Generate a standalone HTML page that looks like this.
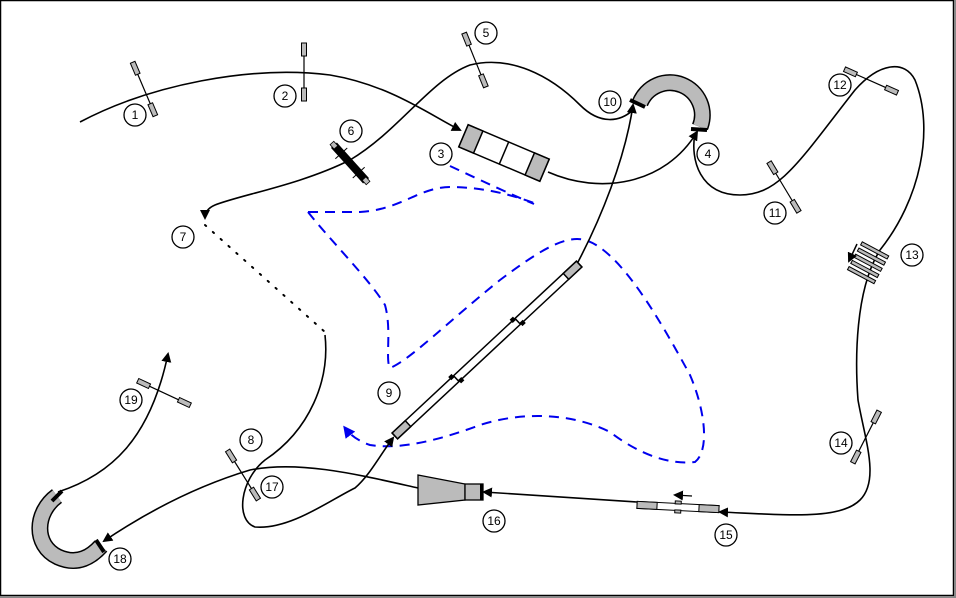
<!DOCTYPE html>
<html><head><meta charset="utf-8"><style>
html,body{margin:0;padding:0;background:#fff;}
svg{display:block;}
text{font-family:"Liberation Sans",sans-serif;font-size:12px;fill:#000;text-anchor:middle;dominant-baseline:central;}
</style></head><body>
<svg width="956" height="598" viewBox="0 0 956 598" xmlns="http://www.w3.org/2000/svg">
<defs>
<marker id="ar" markerWidth="10" markerHeight="10" refX="8" refY="5" orient="auto" markerUnits="userSpaceOnUse"><path d="M0,0 L10,5 L0,10 Z" fill="#000"/></marker>
<marker id="ab" markerWidth="12" markerHeight="12" refX="9" refY="6" orient="auto" markerUnits="userSpaceOnUse"><path d="M0,0 L12,6 L0,12 Z" fill="#0000ee"/></marker>
<g id="jmp"><line x1="0" y1="-28" x2="0" y2="28" stroke="#000" stroke-width="1.2"/><rect x="-2.5" y="-29" width="5" height="13" fill="#bbb" stroke="#000"/><rect x="-2.5" y="16" width="5" height="13" fill="#bbb" stroke="#000"/></g>
</defs>
<rect x="0.5" y="0.5" width="953" height="595" fill="#fff" stroke="#000" stroke-width="1.5"/>
<line x1="955" y1="0" x2="955" y2="598" stroke="#888" stroke-width="2"/>
<line x1="0" y1="597" x2="956" y2="597" stroke="#888" stroke-width="2"/>

<g fill="none" stroke="#0000ee" stroke-width="2" stroke-dasharray="10 7">
<path d="M450,166 C480,180 510,194 534,204"/>
<path d="M308,212 L360,212 C400,210 420,187 450,187 C485,187 515,196 534,203"/>
<path d="M308,212 C330,240 370,280 385,305 C392,330 385,360 390,368 C410,360 450,320 500,280 C540,250 565,235 585,240 C620,250 660,320 690,375 C705,410 710,450 695,462 C670,465 640,455 610,432 C570,412 520,412 480,425 C440,440 400,450 370,445 C355,440 348,432 345,428" marker-end="url(#ab)"/>
</g>

<g fill="none" stroke="#000" stroke-width="1.6">
<path d="M80,122 C150,85 250,65 330,75 C390,85 430,115 460,130" marker-end="url(#ar)"/>
<path d="M548,172 C600,195 665,185 697,132" marker-end="url(#ar)"/>
<path d="M695,133 C690,160 700,195 740,195 C780,195 800,160 855,90 C880,62 905,60 915,80 C935,130 920,200 880,250 C855,290 855,360 858,400 C865,440 880,480 860,500 C840,520 790,515 720,512" marker-end="url(#ar)"/>
<path d="M637,502 L484,492" marker-end="url(#ar)"/>
<path d="M418,488 C360,475 300,460 250,470 C200,485 150,510 104,541" marker-end="url(#ar)"/>
<path d="M58,492 C110,475 150,440 168,354" marker-end="url(#ar)"/>
<path d="M578,262 C600,220 625,160 633,105" marker-end="url(#ar)"/>
<path d="M633,110 C620,122 600,125 580,105 C550,75 510,55 470,65 C430,80 400,130 350,160 C300,185 240,195 215,205 C208,208 205,212 205,218" marker-end="url(#ar)"/>
<path d="M325,335 C330,380 310,430 265,460 C240,480 235,520 255,527 C290,530 330,500 355,488 C370,475 380,455 393,438" marker-end="url(#ar)"/>
</g>
<path d="M205,225 L325,332" stroke="#000" stroke-width="2" stroke-dasharray="1.5 9" fill="none" stroke-linecap="round"/>

<use href="#jmp" transform="translate(144,89) rotate(-23)"/>
<use href="#jmp" transform="translate(304,72)"/>
<use href="#jmp" transform="translate(475,60) rotate(-22)"/>
<use href="#jmp" transform="translate(784,187) rotate(-31)"/>
<use href="#jmp" transform="translate(871,81) rotate(-66)"/>
<use href="#jmp" transform="translate(866,437) rotate(27)"/>
<use href="#jmp" transform="translate(243,475) rotate(-32)"/>
<use href="#jmp" transform="translate(164,393) rotate(-65)"/>
<g transform="translate(350,163) rotate(-42)">
<line x1="0" y1="-26" x2="0" y2="26" stroke="#000" stroke-width="1.2"/>
<rect x="-4" y="-24" width="8" height="48" fill="#000"/>
<rect x="-2.5" y="-27" width="5" height="6" fill="#bbb" stroke="#000" stroke-width="0.8"/>
<rect x="-2.5" y="21" width="5" height="6" fill="#bbb" stroke="#000" stroke-width="0.8"/>
<line x1="-8" y1="-13" x2="8" y2="-13" stroke="#000"/><line x1="-8" y1="13" x2="8" y2="13" stroke="#000"/>
</g>

<g transform="translate(504,153) rotate(23)" stroke="#000" stroke-width="1.5">
<rect x="-44" y="-12" width="88" height="24" fill="#fff"/>
<rect x="-44" y="-12" width="16" height="24" fill="#bbb"/>
<rect x="28" y="-12" width="16" height="24" fill="#bbb"/>
<line x1="0" y1="-12" x2="0" y2="12"/>
</g>

<path d="M640,103 A32,32 0 1 1 700,127" fill="none" stroke="#000" stroke-width="17"/>
<path d="M640,103 A32,32 0 1 1 700,127" fill="none" stroke="#bbb" stroke-width="14"/>
<line x1="630" y1="100" x2="645" y2="107" stroke="#000" stroke-width="4"/>
<line x1="691" y1="129" x2="707" y2="130" stroke="#000" stroke-width="4"/>

<path d="M57,496 C35,512 33,545 58,557 C78,566 92,556 101,546" fill="none" stroke="#000" stroke-width="17"/>
<path d="M57,496 C35,512 33,545 58,557 C78,566 92,556 101,546" fill="none" stroke="#bbb" stroke-width="14"/>
<line x1="52" y1="501" x2="62" y2="491" stroke="#000" stroke-width="4"/>
<line x1="96" y1="540" x2="104" y2="552" stroke="#000" stroke-width="4"/>

<g transform="translate(487,350) rotate(-43)" stroke="#000" stroke-width="1.5">
<rect x="-126" y="-4" width="252" height="8" fill="#fff"/>
<rect x="-126" y="-4" width="18" height="8" fill="#bbb"/>
<rect x="108" y="-4" width="18" height="8" fill="#bbb"/>
<line x1="-42" y1="-4" x2="-42" y2="4"/><line x1="42" y1="-4" x2="42" y2="4"/>
<rect x="-46" y="-6" width="3" height="3" fill="#000"/><rect x="-41" y="3" width="3" height="3" fill="#000"/>
<rect x="38" y="-6" width="3" height="3" fill="#000"/><rect x="43" y="3" width="3" height="3" fill="#000"/>
</g>

<g transform="translate(678,507) rotate(3)" stroke="#000" stroke-width="1">
<rect x="-41" y="-3.5" width="82" height="7" fill="#fff"/>
<rect x="-41" y="-3.5" width="20" height="7" fill="#bbb"/>
<rect x="21" y="-3.5" width="20" height="7" fill="#bbb"/>
<rect x="-3" y="-6" width="6" height="3" fill="#bbb"/><rect x="-3" y="3" width="6" height="3" fill="#bbb"/>
</g>
<path d="M692,496 L675,495" stroke="#000" stroke-width="1.3" marker-end="url(#ar)"/>

<path d="M418,475 L465,484 L465,500 L418,505 Z" fill="#bbb" stroke="#000" stroke-width="1.3"/>
<rect x="465" y="484" width="18" height="16" fill="#bbb" stroke="#000" stroke-width="1.3"/>
<rect x="480" y="484" width="3" height="16" fill="#000"/>

<g transform="translate(868,263) rotate(28)">
<g fill="#bbb" stroke="#000" stroke-width="1">
<rect x="-15" y="-16" width="30" height="3.5"/><rect x="-15" y="-9" width="30" height="3.5"/><rect x="-15" y="-2" width="30" height="3.5"/><rect x="-15" y="5" width="30" height="3.5"/><rect x="-15" y="12" width="30" height="3.5"/>
</g>
</g>
<path d="M857,244 L849,261" stroke="#000" stroke-width="1.5" marker-end="url(#ar)"/>

<g fill="#fff" stroke="#000" stroke-width="1.3">
<circle cx="135" cy="115" r="11"/><circle cx="285" cy="96" r="11"/><circle cx="441" cy="154" r="11"/>
<circle cx="708" cy="154" r="11"/><circle cx="486" cy="33" r="11"/><circle cx="351" cy="131" r="11"/>
<circle cx="183" cy="237" r="11"/><circle cx="251" cy="440" r="11"/><circle cx="389" cy="393" r="11"/>
<circle cx="610" cy="102" r="11"/><circle cx="775" cy="213" r="11"/><circle cx="840" cy="85" r="11"/>
<circle cx="912" cy="255" r="11"/><circle cx="841" cy="443" r="11"/><circle cx="726" cy="535" r="11"/>
<circle cx="494" cy="521" r="11"/><circle cx="272" cy="487" r="11"/><circle cx="120" cy="559" r="11"/>
<circle cx="131" cy="400" r="11"/>
</g>
<text x="135" y="115">1</text><text x="285" y="96">2</text><text x="441" y="154">3</text>
<text x="708" y="154">4</text><text x="486" y="33">5</text><text x="351" y="131">6</text>
<text x="183" y="237">7</text><text x="251" y="440">8</text><text x="389" y="393">9</text>
<text x="610" y="102">10</text><text x="775" y="213">11</text><text x="840" y="85">12</text>
<text x="912" y="255">13</text><text x="841" y="443">14</text><text x="726" y="535">15</text>
<text x="494" y="521">16</text><text x="272" y="487">17</text><text x="120" y="559">18</text>
<text x="131" y="400">19</text>
</svg>
</body></html>
